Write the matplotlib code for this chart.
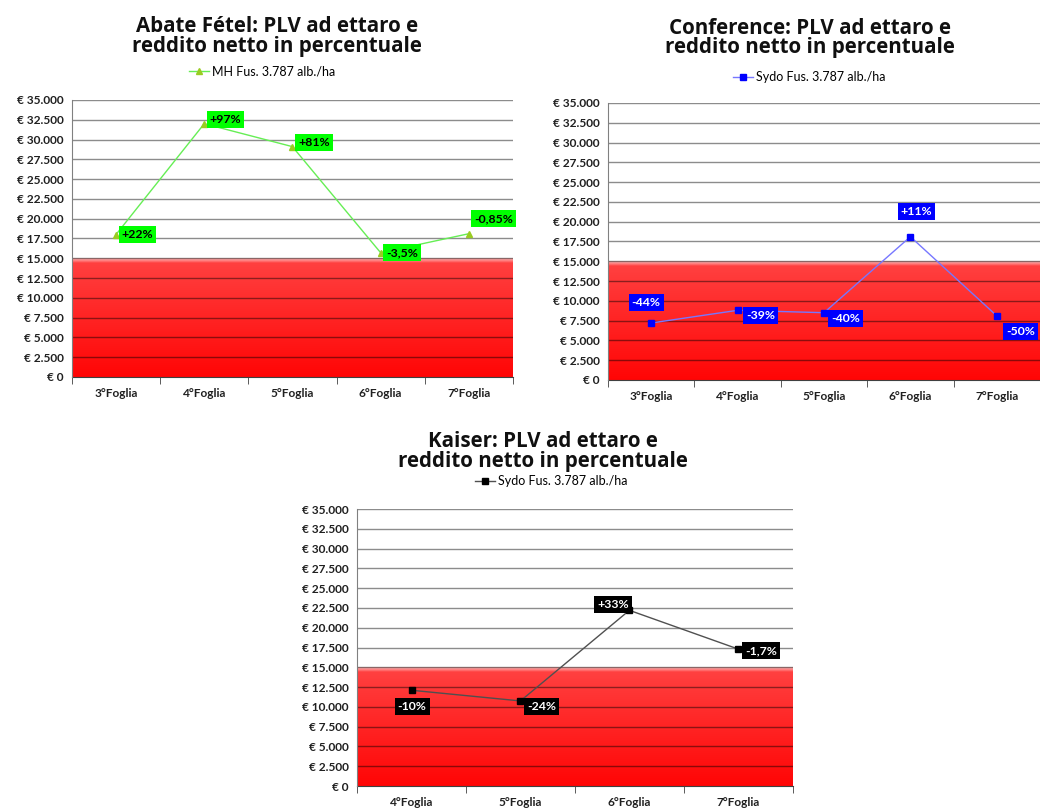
import numpy as np
import matplotlib
matplotlib.use('Agg')
import matplotlib.pyplot as plt
from matplotlib.ticker import FuncFormatter, MultipleLocator
from matplotlib.lines import Line2D

#%% data
cat_all = ['3°Foglia', '4°Foglia', '5°Foglia', '6°Foglia', '7°Foglia']
cat_kaiser = ['4°Foglia', '5°Foglia', '6°Foglia', '7°Foglia']

abate_vals = [18000, 32000, 29100, 15700, 18100]
abate_lbls = ['+22%', '+97%', '+81%', '-3,5%', '-0,85%']

conf_vals = [7200, 8800, 8500, 18100, 8100]
conf_lbls = ['-44%', '-39%', '-40%', '+11%', '-50%']

kaiser_vals = [12100, 10750, 22200, 17300]
kaiser_lbls = ['-10%', '-24%', '+33%', '-1,7%']

soglia = 15000   # upper edge of the red band
ymax = 35000

#%%
def euro(v, pos):
    if v == 0:
        return '€ 0'
    return '€ ' + '{:,.0f}'.format(v).replace(',', '.')

red_band = np.linspace(0, 1, 200).reshape(-1, 1)
red_rgb = np.zeros((200, 1, 3))
red_rgb[:, 0, 0] = 1.0
red_rgb[:, 0, 1] = 0.02 + 0.24 * red_band[:, 0]
red_rgb[:, 0, 2] = 0.02 + 0.24 * red_band[:, 0]
# light fade at the top edge
red_rgb[-8:, 0, 1] = np.linspace(0.3, 0.75, 8)
red_rgb[-8:, 0, 2] = np.linspace(0.3, 0.75, 8)

def chart(ax, cats, vals, lbls, line_col, mk, mk_col, box_col, txt_col, offsets):
    n = len(cats)
    x = np.arange(n)
    ax.set_xlim(-0.5, n - 0.5)
    ax.imshow(red_rgb, extent=(-0.5, n - 0.5, 0, soglia), origin='lower',
              aspect='auto', zorder=0, interpolation='bilinear')
    ax.set_ylim(0, ymax)
    for g in np.arange(2500, ymax + 1, 2500):
        ax.axhline(g, color='black', alpha=0.45, lw=1.0, zorder=1)
    ax.plot(x, vals, color=line_col, lw=1.0, marker=mk, ms=5,
            mfc=mk_col, mec=mk_col, zorder=3)
    for xi, v, t, off in zip(x, vals, lbls, offsets):
        ax.annotate(t, (xi, v), xytext=off, textcoords='offset points',
                    ha='left', va='center', fontsize=8.8, color=txt_col,
                    family='Lato', fontweight='bold', zorder=4, annotation_clip=False,
                    bbox=dict(boxstyle='square,pad=0.25', fc=box_col, ec='none'))
    ax.yaxis.set_major_locator(MultipleLocator(2500))
    ax.yaxis.set_major_formatter(FuncFormatter(euro))
    ax.set_xticks(x)
    ax.set_xticklabels(cats)
    ax.set_xticks(np.arange(-0.5, n, 1.0), minor=True)
    ax.tick_params(axis='x', which='major', length=0, pad=8)
    ax.tick_params(axis='x', which='minor', length=5, color='#404040', direction='out')
    ax.tick_params(axis='y', length=0, pad=6)
    for lab in ax.get_xticklabels() + ax.get_yticklabels():
        lab.set_family('Lato')
        lab.set_fontweight('bold')
        lab.set_fontsize(8.6)
        lab.set_color('#202020')
    ax.spines['top'].set_visible(False)
    ax.spines['right'].set_visible(False)
    ax.spines['left'].set_color('#808080')
    ax.spines['bottom'].set_color('#404040')
    ax.spines['left'].set_zorder(5)


fig = plt.figure(figsize=(10.4, 8.1), dpi=100)

ax1 = fig.add_axes([0.0692, 0.5346, 0.424, 0.342])
chart(ax1, cat_all, abate_vals, abate_lbls, '#66ee55', '^', '#99cc22', '#00ff00', 'black',
      [(4, 0), (4, 3), (4, 3), (4, 0), (4, 11)])

ax2 = fig.add_axes([0.5846, 0.5309, 0.4154, 0.342])
chart(ax2, cat_all, conf_vals, conf_lbls, '#7777ff', 's', '#0000ff', '#0000ff', 'white',
      [(-14, 15), (6, -4), (5, -4), (-7, 18), (7, -11)])

ax3 = fig.add_axes([0.3433, 0.0296, 0.419, 0.342])
chart(ax3, cat_kaiser, kaiser_vals, kaiser_lbls, '#505050', 's', 'black', 'black', 'white',
      [(-10, -12), (5, -4), (-23, 4), (5, -1)])

titles = [(0.266, 0.955, 'Abate Fétel: PLV ad ettaro e\nreddito netto in percentuale'),
          (0.779, 0.953, 'Conference: PLV ad ettaro e\nreddito netto in percentuale'),
          (0.522, 0.443, 'Kaiser: PLV ad ettaro e\nreddito netto in percentuale')]
for tx, ty, tt in titles:
    fig.text(tx, ty, tt, ha='center', va='center', fontsize=14.8, fontweight='bold',
             family='Open Sans', linespacing=0.92, color='#101010')

legends = [(0.252, 0.912, 'MH Fus. 3.787 alb./ha', '#66ee55', '^', '#99cc22'),
           (0.778, 0.905, 'Sydo Fus. 3.787 alb./ha', '#7777ff', 's', '#0000ff'),
           (0.530, 0.406, 'Sydo Fus. 3.787 alb./ha', '#505050', 's', 'black')]
for lx, ly, lt, lc, lm, lmc in legends:
    h = Line2D([], [], color=lc, lw=1.0, marker=lm, ms=4, mfc=lmc, mec=lmc)
    fig.legend([h], [lt], loc='center', bbox_to_anchor=(lx, ly), frameon=False,
               handlelength=1.6, handletextpad=0.2, borderpad=0,
               prop={'family': 'Lato', 'size': 9})

fig.savefig('out.png', dpi=100, facecolor='white')
